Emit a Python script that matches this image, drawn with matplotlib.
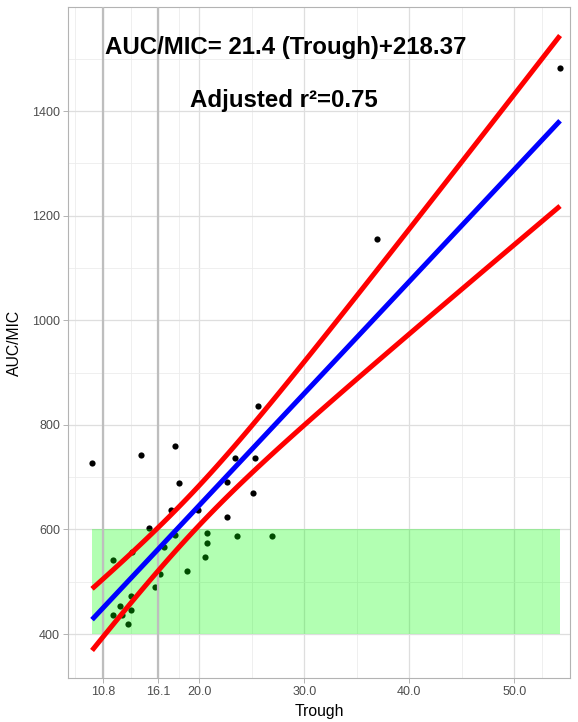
import numpy as np
import matplotlib
matplotlib.use("Agg")
import matplotlib.pyplot as plt
from matplotlib.ticker import FixedLocator

# ---- data ----
trough = [9.78, 14.42, 17.69, 18.10, 17.30, 15.24, 17.69, 16.67, 11.75, 13.54,
          18.80, 16.26, 15.78, 13.50, 12.45, 11.81, 12.67, 13.47, 13.16, 19.90,
          20.70, 20.70, 20.54, 23.59, 26.88, 22.67, 25.14, 25.30, 23.40, 22.67,
          25.62, 36.90, 54.35]
auc_mic = [728, 743, 760, 688, 637, 603, 589, 567, 541, 557,
           520, 514, 491, 473, 453, 437, 436, 446, 419, 637,
           594, 575, 548, 587, 587, 624, 669, 736, 736, 691,
           836, 1155, 1483]

slope = 21.4
intercept = 218.37
t_crit = 2.04                # 95% two-sided, n-2 dof
target_low, target_high = 400, 600
vlines = [10.8, 16.1]

x_ticks = [10.8, 16.1, 20.0, 30.0, 40.0, 50.0]
x_ticklabels = ["10.8", "16.1", "20.0", "30.0", "40.0", "50.0"]
x_minor = [8.15, 13.45, 18.05, 25, 35, 45, 52.65]
y_ticks = [400, 600, 800, 1000, 1200, 1400]
y_minor = [500, 700, 900, 1100, 1300, 1500]

title1 = "AUC/MIC= 21.4 (Trough)+218.37"
title2 = "Adjusted r\u00b2=0.75"

# ---- figure ----
plt.rcParams['font.family'] = ['Liberation Sans', 'DejaVu Sans']
fig = plt.figure(figsize=(5.78, 7.22), dpi=100)
ax = fig.add_axes([0.1182, 0.0609, 0.9862 - 0.1182, 0.9903 - 0.0609])

x = np.array(trough)
y = np.array(auc_mic)
n = len(x)
xbar = x.mean()
sxx = ((x - xbar) ** 2).sum()
resid = y - (intercept + slope * x)
s = np.sqrt((resid ** 2).sum() / (n - 2))

xs = np.linspace(x.min(), x.max(), 80)
yhat = intercept + slope * xs
half = t_crit * s * np.sqrt(1.0 / n + (xs - xbar) ** 2 / sxx)

ax.scatter(x, y, s=20, color='black', zorder=3, linewidths=0)
ax.add_patch(plt.Rectangle((x.min(), target_low), x.max() - x.min(),
                           target_high - target_low, facecolor=(0, 1, 0),
                           alpha=0.3, edgecolor='none', zorder=4))
for v in vlines:
    ax.axvline(v, color='#bebebe', linewidth=1.6, zorder=5)
ax.plot(xs, yhat + half, color='red', linewidth=3.6, zorder=6, solid_capstyle='butt')
ax.plot(xs, yhat - half, color='red', linewidth=3.6, zorder=6, solid_capstyle='butt')
ax.plot(xs, yhat, color='blue', linewidth=3.6, zorder=7, solid_capstyle='butt')

ax.text(28.26, 1510, title1, fontsize=17.3, fontweight='bold', ha='center',
        va='baseline', zorder=8)
ax.text(28.05, 1407, title2, fontsize=17.3, fontweight='bold', ha='center',
        va='baseline', zorder=8)

ax.set_xlim(7.52, 55.3)
ax.set_ylim(316, 1599)
ax.set_xticks(x_ticks)
ax.set_xticklabels(x_ticklabels)
ax.set_yticks(y_ticks)
ax.xaxis.set_minor_locator(FixedLocator(x_minor))
ax.yaxis.set_minor_locator(FixedLocator(y_minor))
ax.grid(which='major', color='#dedede', linewidth=0.9, zorder=0)
ax.grid(which='minor', color='#ececec', linewidth=0.6, zorder=0)
ax.set_axisbelow(True)
ax.tick_params(which='major', length=3.5, width=0.7, color='#b3b3b3',
               labelsize=9, labelcolor='#4d4d4d', pad=2.5)
ax.tick_params(which='minor', length=0)
for sp in ax.spines.values():
    sp.set_color('#b3b3b3')
    sp.set_linewidth(0.8)

ax.set_xlabel("Trough", fontsize=11.3, color='black', labelpad=4)
ax.set_ylabel("AUC/MIC", fontsize=11.3, color='black', labelpad=7)

fig.savefig("out.png", dpi=100)
